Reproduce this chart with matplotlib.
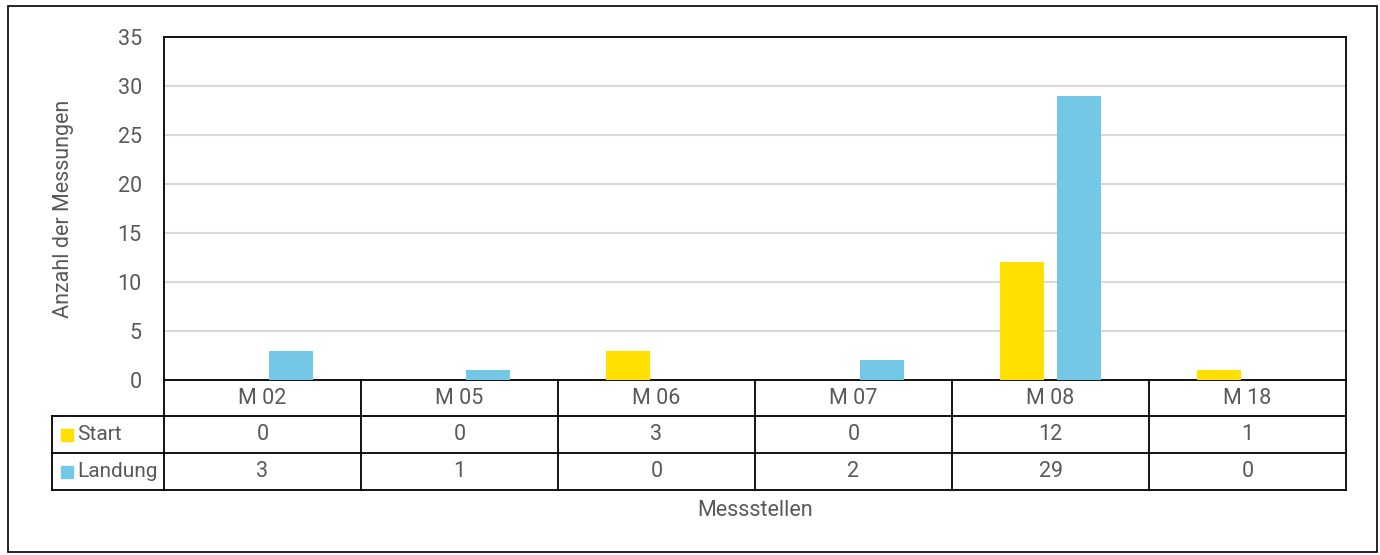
import matplotlib
matplotlib.use("Agg")
import matplotlib.pyplot as plt
from matplotlib.transforms import blended_transform_factory
from matplotlib.patches import Rectangle
from matplotlib.lines import Line2D

# data
stations = ["M 02", "M 05", "M 06", "M 07", "M 08", "M 18"]
start = [0, 0, 3, 0, 12, 1]
landung = [3, 1, 0, 2, 29, 0]
series_names = ["Start", "Landung"]
colors = ["#FFE000", "#74C8E5"]
yticks = [0, 5, 10, 15, 20, 25, 30, 35]

plt.rcParams["font.family"] = ["Roboto", "DejaVu Sans"]
txt = "#595959"
fs = 15.5

W, H = 1380, 555
fig = plt.figure(figsize=(W / 100, H / 100), dpi=100)

def fx(px):
    return px / W

def fy(py):
    return 1 - py / H

ax = fig.add_axes([fx(164), fy(380), fx(1346) - fx(164), fy(37) - fy(380)])

x = list(range(len(stations)))
w = 0.223
off = 0.143
ax.bar([i - off for i in x], start, width=w, color=colors[0], zorder=3)
ax.bar([i + off for i in x], landung, width=w, color=colors[1], zorder=3)

ax.set_xlim(-0.5, len(stations) - 0.5)
ax.set_ylim(0, 35)
ax.set_yticks(yticks)
ax.set_yticklabels([str(v) for v in yticks], fontsize=fs, color=txt)
ax.tick_params(axis="y", length=0, pad=16)
ax.set_xticks([])
ax.grid(axis="y", color="#D9D9D9", linewidth=1.5, zorder=0)
for s in ax.spines.values():
    s.set_color("black")
    s.set_linewidth(1.3)

ax.set_ylabel("Anzahl der Messungen", fontsize=fs, color=txt, labelpad=31)

# data table under the axes
tr = blended_transform_factory(ax.transData, fig.transFigure)
rows_y = [fy(380), fy(416), fy(453), fy(490)]
lw = 1.3

for b in [i - 0.5 for i in range(len(stations) + 1)]:
    fig.add_artist(Line2D([b, b], [rows_y[0], rows_y[3]], transform=tr, color="black", lw=lw))
for yy in rows_y[1:]:
    fig.add_artist(Line2D([fx(52), fx(1346)], [yy, yy], color="black", lw=lw))
fig.add_artist(Line2D([fx(52), fx(52)], [rows_y[1], rows_y[3]], color="black", lw=lw))

for i, name in enumerate(stations):
    fig.text(i, (rows_y[0] + rows_y[1]) / 2, name, transform=tr, ha="center", va="center",
             fontsize=fs, color=txt)
    fig.text(i, (rows_y[1] + rows_y[2]) / 2, str(start[i]), transform=tr, ha="center",
             va="center", fontsize=fs, color=txt)
    fig.text(i, (rows_y[2] + rows_y[3]) / 2, str(landung[i]), transform=tr, ha="center",
             va="center", fontsize=fs, color=txt)

for k, (name, c) in enumerate(zip(series_names, colors)):
    yc = (rows_y[k + 1] + rows_y[k + 2]) / 2
    fig.add_artist(Rectangle((fx(61), yc - 6 / H), 12 / W, 12 / H, color=c))
    fig.text(fx(77), yc, name, ha="left", va="center", fontsize=15, color=txt)

fig.text(fx(755), fy(511), "Messstellen", ha="center", va="center", fontsize=fs, color=txt)

# outer border
fig.add_artist(Rectangle((fx(8), fy(552)), fx(1377) - fx(8), fy(6) - fy(552),
                         fill=False, edgecolor="black", lw=1.2))

fig.savefig("out.png", dpi=100)
